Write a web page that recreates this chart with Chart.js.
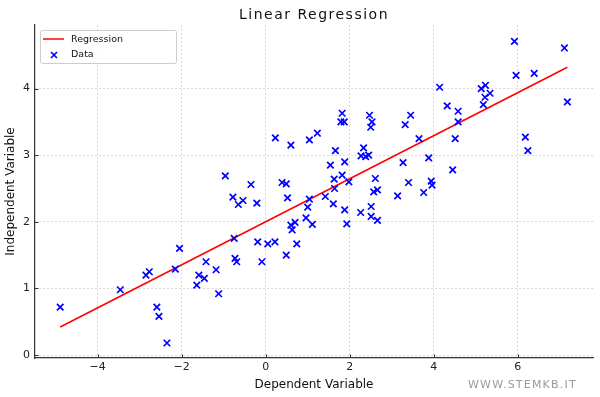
<!DOCTYPE html>
<html lang="en">
<head>
<meta charset="UTF-8">
<title>Linear Regression</title>
<script src="https://cdn.jsdelivr.net/npm/chart.js"></script>
<style>
  body { margin: 0; background: #fff; }
  #wrap { width: 600px; height: 397px; }
</style>
</head>
<body>
<div id="wrap"><canvas id="chart" width="600" height="397"></canvas></div>

<script>
// Data
const dataX = [-4.89, -3.46, -2.85, -2.77, -2.05, -2.15, -2.59, -2.54, -2.35, -1.42,
  -1.59, -1.46, -1.64, -1.18, -1.12, 0.23, 0.60, 1.04, 1.23, 1.82,
  1.79, 1.87, 1.66, 1.54, 1.63, 1.82, 1.88, 1.64, 1.98, -0.96,
  -0.35, -0.78, -0.65, -0.54, -0.21, 0.39, 0.49, 0.52, 1.04, 1.00,
  1.42, 1.61, 1.88, 1.93, 0.96, 1.11, 0.60, 0.70, 0.63, 0.74,
  0.49, -0.75, -0.19, 0.05, 0.22, -0.09, -0.73, -0.69, 2.47, 2.53,
  2.50, 3.45, 3.32, 3.65, 4.32, 2.33, 2.27, 2.38, 2.45, 3.27,
  3.88, 2.61, 2.66, 2.57, 3.40, 3.94, 3.96, 3.76, 3.14, 2.51,
  2.26, 2.51, 2.66, 5.92, 7.11, 5.96, 6.39, 7.18, 4.14, 5.13,
  5.23, 5.34, 5.22, 5.18, 4.58, 4.58, 4.51, 6.18, 6.24, 4.45];
const dataY = [0.72, 0.98, 1.20, 1.25, 1.60, 1.29, 0.72, 0.58, 0.18, 1.40,
  1.20, 1.15, 1.05, 1.28, 0.92, 3.26, 3.15, 3.23, 3.33, 3.63,
  3.50, 3.50, 3.07, 2.85, 2.64, 2.70, 2.90, 2.50, 2.60, 2.69,
  2.56, 2.37, 2.26, 2.32, 2.28, 2.59, 2.57, 2.36, 2.34, 2.22,
  2.38, 2.27, 2.18, 1.97, 2.06, 1.96, 1.95, 1.99, 1.88, 1.67,
  1.50, 1.75, 1.70, 1.67, 1.70, 1.40, 1.45, 1.40, 3.60, 3.50,
  3.42, 3.60, 3.46, 3.25, 3.74, 3.11, 2.99, 2.98, 3.00, 2.89,
  2.96, 2.65, 2.48, 2.45, 2.59, 2.61, 2.55, 2.44, 2.39, 2.23,
  2.14, 2.08, 2.02, 4.71, 4.61, 4.20, 4.23, 3.80, 4.02, 4.00,
  4.05, 3.93, 3.87, 3.76, 3.66, 3.50, 3.25, 3.27, 3.07, 2.78];

// Regression line end points
const lineX = [-4.89, 7.18];
const lineY = [0.42, 4.32];

const xTicks = [-4, -2, 0, 2, 4, 6];
const yTicks = [0, 1, 2, 3, 4];

const FONT = "'DejaVu Sans', sans-serif";

const scatterPts = dataX.map((x, i) => ({ x: x, y: dataY[i] }));
const linePts = lineX.map((x, i) => ({ x: x, y: lineY[i] }));

const fmt = v => (v < 0 ? '\u2212' + Math.abs(v) : String(v));

// titles, legend, inward ticks, watermark
const extras = {
  id: 'extras',
  afterDraw(chart) {
    const ctx = chart.ctx;
    const area = chart.chartArea;
    const sx = chart.scales.x, sy = chart.scales.y;

    // inward tick marks
    ctx.save();
    ctx.strokeStyle = '#333';
    ctx.lineWidth = 1;
    xTicks.forEach(t => {
      const p = Math.round(sx.getPixelForValue(t)) + 0.5;
      ctx.beginPath();
      ctx.moveTo(p, area.bottom);
      ctx.lineTo(p, area.bottom - 3.5);
      ctx.stroke();
    });
    yTicks.forEach(t => {
      const p = Math.round(sy.getPixelForValue(t)) + 0.5;
      ctx.beginPath();
      ctx.moveTo(area.left, p);
      ctx.lineTo(area.left + 3.5, p);
      ctx.stroke();
    });
    ctx.restore();

    // title
    ctx.save();
    ctx.font = '14px ' + FONT;
    ctx.fillStyle = '#111';
    ctx.letterSpacing = '1.5px';
    ctx.textAlign = 'center';
    ctx.textBaseline = 'middle';
    ctx.fillText('Linear Regression', (area.left + area.right) / 2, 15);
    ctx.restore();

    // watermark
    ctx.save();
    ctx.font = '11px ' + FONT;
    ctx.fillStyle = '#9a9a9a';
    ctx.letterSpacing = '1.2px';
    ctx.textAlign = 'left';
    ctx.textBaseline = 'middle';
    ctx.fillText('WWW.STEMKB.IT', 468, 385);
    ctx.restore();

    // legend
    const ds = chart.data.datasets;
    ctx.save();
    ctx.fillStyle = 'rgba(255,255,255,0.85)';
    ctx.strokeStyle = '#cccccc';
    ctx.lineWidth = 1;
    ctx.beginPath();
    ctx.roundRect(40.5, 30.5, 136, 33, 2);
    ctx.fill();
    ctx.stroke();

    ctx.strokeStyle = ds[0].borderColor;
    ctx.lineWidth = 1.5;
    ctx.beginPath();
    ctx.moveTo(43, 39);
    ctx.lineTo(64, 39);
    ctx.stroke();

    ctx.strokeStyle = ds[1].borderColor;
    ctx.lineWidth = 1.7;
    ctx.beginPath();
    ctx.moveTo(51, 52); ctx.lineTo(57, 58);
    ctx.moveTo(57, 52); ctx.lineTo(51, 58);
    ctx.stroke();

    ctx.font = '9.5px ' + FONT;
    ctx.fillStyle = '#111';
    ctx.textAlign = 'left';
    ctx.textBaseline = 'middle';
    ctx.fillText(ds[0].label, 71, 40);
    ctx.fillText(ds[1].label, 71, 55);
    ctx.restore();
  }
};

const ctx = document.getElementById('chart').getContext('2d');
const chart = new Chart(ctx, {
  type: 'scatter',
  data: {
    datasets: [
      {
        label: 'Regression',
        data: linePts,
        showLine: true,
        borderColor: '#ff0000',
        borderWidth: 1.5,
        pointRadius: 0,
        order: 2
      },
      {
        label: 'Data',
        data: scatterPts,
        pointStyle: 'crossRot',
        pointRadius: 4.6,
        pointBorderWidth: 1.7,
        borderColor: '#0000ff',
        backgroundColor: '#0000ff',
        order: 1
      }
    ]
  },
  options: {
    responsive: false,
    animation: false,
    layout: { padding: { top: 25, right: 7, left: 0, bottom: 0 } },
    plugins: {
      legend: { display: false },
      title: { display: false },
      tooltip: { enabled: false }
    },
    scales: {
      x: {
        type: 'linear',
        min: -5.49,
        max: 7.79,
        afterFit: s => { s.height = 39; },
        afterBuildTicks: s => { s.ticks = xTicks.map(v => ({ value: v })); },
        ticks: {
          includeBounds: false,
          padding: 3,
          color: '#222',
          font: { family: FONT, size: 11 },
          callback: v => fmt(v)
        },
        grid: { color: '#d0d0d0', lineWidth: 0.8, drawTicks: false },
        border: { display: true, color: '#333', width: 1.2, dash: [2, 2] },
        title: {
          display: true,
          text: 'Dependent Variable',
          color: '#111',
          font: { family: FONT, size: 12 },
          padding: { top: 0, bottom: 5 }
        }
      },
      y: {
        type: 'linear',
        min: -0.045,
        max: 4.955,
        afterFit: s => { s.width = 35; },
        afterBuildTicks: s => { s.ticks = yTicks.map(v => ({ value: v })); },
        ticks: {
          includeBounds: false,
          padding: 5,
          color: '#222',
          font: { family: FONT, size: 11 },
          callback: v => fmt(v)
        },
        grid: { color: '#d0d0d0', lineWidth: 0.8, drawTicks: false },
        border: { display: true, color: '#333', width: 1.2, dash: [2, 2] },
        title: {
          display: true,
          text: 'Independent Variable',
          color: '#111',
          font: { family: FONT, size: 12 },
          padding: { top: 4, bottom: 0 }
        }
      }
    }
  },
  plugins: [extras]
});
</script>
</body>
</html>
